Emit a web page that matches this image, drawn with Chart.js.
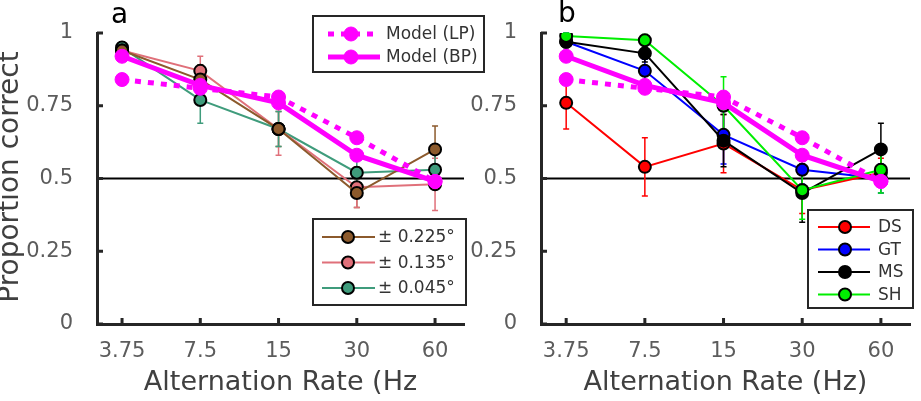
<!DOCTYPE html>
<html>
<head>
<meta charset="utf-8">
<script src="https://cdn.jsdelivr.net/npm/chart.js@4.4.1/dist/chart.umd.min.js"></script>
<style>
html, body { margin: 0; padding: 0; background: #fff; }
#wrap { position: relative; width: 921px; height: 401px; overflow: hidden; }
#chartA { position: absolute; left: 0; top: 0; z-index: 2; }
#chartB { position: absolute; left: 460px; top: 0; z-index: 1; }
</style>
</head>
<body>
<div id="wrap">
  <canvas id="chartA" width="490" height="401"></canvas>
  <canvas id="chartB" width="461" height="401"></canvas>
</div>
<script>
// categories (alternation rate, Hz)
const rates = ['3.75', '7.5', '15', '30', '60'];
const yTicks = [0, 0.25, 0.5, 0.75, 1];

// model curves (same in both panels)
const modelLP = [0.84, 0.81, 0.78, 0.64, 0.49];
const modelBP = [0.92, 0.82, 0.76, 0.58, 0.49];

// panel a: eccentricity conditions (mean, error half-width)
const ecc225 = [0.94, 0.84, 0.67, 0.45, 0.60];
const ecc225Err = [0.02, 0.05, 0.06, 0.05, 0.08];
const ecc135 = [0.94, 0.87, 0.67, 0.47, 0.48];
const ecc135Err = [0.02, 0.05, 0.09, 0.07, 0.09];
const ecc045 = [0.95, 0.77, 0.67, 0.52, 0.53];
const ecc045Err = [0.02, 0.08, 0.06, 0.06, 0.06];

// panel b: subjects
const subjDS = [0.76, 0.54, 0.62, 0.46, 0.52];
const subjDSErr = [0.09, 0.10, 0.10, 0.08, 0.05];
const subjGT = [0.97, 0.87, 0.65, 0.53, 0.50];
const subjGTErr = [0.03, 0.04, 0.10, 0.05, 0.05];
const subjMS = [0.97, 0.93, 0.63, 0.45, 0.60];
const subjMSErr = [0.02, 0.03, 0.09, 0.10, 0.09];
const subjSH = [0.99, 0.975, 0.75, 0.46, 0.53];
const subjSHErr = [0.01, 0.02, 0.10, 0.10, 0.08];

Chart.defaults.font.family = 'DejaVu Sans';

const toPts = arr => arr.map((v, i) => ({ x: i, y: v }));

function subject(label, values, err, color, order) {
  return {
    label: label,
    data: toPts(values),
    err: err,
    borderColor: color,
    backgroundColor: color,
    borderWidth: 2,
    pointRadius: 6,
    pointBackgroundColor: color,
    pointBorderColor: '#000',
    pointBorderWidth: 2,
    order: order
  };
}

function models() {
  return [
    {
      label: 'Model (LP)',
      data: toPts(modelLP),
      borderColor: '#ff00ff',
      backgroundColor: '#ff00ff',
      borderWidth: 5,
      borderDash: [6, 7],
      pointRadius: 7,
      pointBackgroundColor: '#ff00ff',
      pointBorderColor: '#ff00ff',
      pointBorderWidth: 1,
      order: 1
    },
    {
      label: 'Model (BP)',
      data: toPts(modelBP),
      borderColor: '#ff00ff',
      backgroundColor: '#ff00ff',
      borderWidth: 5,
      pointRadius: 7,
      pointBackgroundColor: '#ff00ff',
      pointBorderColor: '#ff00ff',
      pointBorderWidth: 1,
      order: 0
    }
  ];
}

// reference line, error bars, inward ticks, titles and boxed legends
const extras = {
  id: 'extras',
  beforeDatasetsDraw(chart) {
    const { ctx, chartArea: a, scales: { x, y } } = chart;
    ctx.save();
    const y5 = y.getPixelForValue(0.5);
    ctx.strokeStyle = '#000';
    ctx.lineWidth = 2;
    ctx.beginPath();
    ctx.moveTo(a.left, y5);
    ctx.lineTo(a.right, y5);
    ctx.stroke();

    chart.data.datasets.forEach(ds => {
      if (!ds.err) return;
      ctx.strokeStyle = ds.borderColor;
      ctx.lineWidth = 1.5;
      ds.data.forEach(p => {
        const px = x.getPixelForValue(p.x);
        const top = y.getPixelForValue(p.y + ds.err[p.x]);
        const bot = y.getPixelForValue(p.y - ds.err[p.x]);
        ctx.beginPath();
        ctx.moveTo(px, top); ctx.lineTo(px, bot);
        ctx.moveTo(px - 3, top); ctx.lineTo(px + 3, top);
        ctx.moveTo(px - 3, bot); ctx.lineTo(px + 3, bot);
        ctx.stroke();
      });
    });
    ctx.restore();
  },
  afterDraw(chart, args, opts) {
    const { ctx, chartArea: a, scales: { x, y } } = chart;
    ctx.save();
    // inward tick marks
    ctx.strokeStyle = '#262626';
    ctx.lineWidth = 3;
    ctx.beginPath();
    yTicks.forEach(v => {
      const py = y.getPixelForValue(v);
      ctx.moveTo(a.left, py); ctx.lineTo(a.left + 6, py);
    });
    rates.forEach((r, i) => {
      const px = x.getPixelForValue(i);
      ctx.moveTo(px, a.bottom); ctx.lineTo(px, a.bottom - 6);
    });
    ctx.stroke();

    // panel letter
    ctx.fillStyle = '#000';
    ctx.font = '28px "DejaVu Sans"';
    ctx.textAlign = 'left';
    ctx.textBaseline = 'alphabetic';
    ctx.fillText(opts.letter, opts.letterX, opts.letterY);

    // y title (partly off the left edge, as in the figure)
    if (opts.yTitle) {
      ctx.save();
      ctx.translate(18, 177);
      ctx.rotate(-Math.PI / 2);
      ctx.fillStyle = '#404040';
      ctx.font = '28px "DejaVu Sans"';
      ctx.textAlign = 'center';
      ctx.fillText(opts.yTitle, 0, 0);
      ctx.restore();
    }

    // legends
    (opts.legends || []).forEach(L => {
      ctx.fillStyle = '#fff';
      ctx.fillRect(L.x, L.y, L.w, L.h);
      ctx.strokeStyle = '#262626';
      ctx.lineWidth = 2;
      ctx.setLineDash([]);
      ctx.strokeRect(L.x, L.y, L.w, L.h);
      L.items.forEach((di, k) => {
        const ds = chart.data.datasets[di];
        const cy = L.y + L.rowTop + k * L.rowGap;
        ctx.strokeStyle = ds.borderColor;
        ctx.lineWidth = ds.borderWidth;
        ctx.setLineDash(ds.borderDash || []);
        ctx.beginPath();
        ctx.moveTo(L.x + L.line0, cy);
        ctx.lineTo(L.x + L.line1, cy);
        ctx.stroke();
        ctx.setLineDash([]);
        ctx.beginPath();
        ctx.arc(L.x + L.mark, cy, ds.pointRadius, 0, Math.PI * 2);
        ctx.fillStyle = ds.pointBackgroundColor;
        ctx.fill();
        ctx.lineWidth = ds.pointBorderWidth;
        ctx.strokeStyle = ds.pointBorderColor;
        ctx.stroke();
        ctx.fillStyle = '#333';
        ctx.font = '17px "DejaVu Sans"';
        ctx.textAlign = 'left';
        ctx.textBaseline = 'middle';
        ctx.fillText(L.labels ? L.labels[k] : ds.label, L.x + L.text, cy + 1);
      });
    });
    ctx.restore();
  }
};

function makeOptions(yWidth, padRight, xTitle, extraOpts) {
  return {
    responsive: false,
    animation: false,
    layout: { padding: { top: 33, right: padRight, left: 0, bottom: 0 } },
    plugins: {
      legend: { display: false },
      tooltip: { enabled: false },
      extras: extraOpts
    },
    scales: {
      x: {
        type: 'linear',
        min: -0.32,
        max: 4.37,
        afterBuildTicks: s => { s.ticks = rates.map((r, i) => ({ value: i })); },
        afterFit: s => { s.height = 77; },
        grid: { display: false },
        border: { display: true, color: '#262626', width: 3 },
        ticks: {
          color: '#5c5c5c',
          font: { size: 21 },
          padding: 7,
          maxRotation: 0,
          callback: v => rates[v]
        },
        title: {
          display: true,
          text: xTitle,
          color: '#404040',
          font: { size: 27 },
          padding: { top: 0, bottom: 2 }
        }
      },
      y: {
        min: 0,
        max: 1,
        afterBuildTicks: s => { s.ticks = yTicks.map(v => ({ value: v })); },
        afterFit: s => { s.width = yWidth; },
        grid: { display: false },
        border: { display: true, color: '#262626', width: 3 },
        ticks: {
          color: '#5c5c5c',
          font: { size: 21 },
          padding: 16,
          callback: v => String(v)
        }
      }
    }
  };
}

new Chart(document.getElementById('chartA'), {
  type: 'line',
  data: {
    datasets: [
      ...models(),
      subject('± 0.225', ecc225, ecc225Err, '#8c5a2c', 2),
      subject('± 0.135', ecc135, ecc135Err, '#e0707a', 3),
      subject('± 0.045', ecc045, ecc045Err, '#3f9c7c', 4)
    ]
  },
  options: makeOptions(97, 26, 'Alternation Rate (Hz', {
    letter: 'a', letterX: 111, letterY: 23,
    yTitle: 'Proportion correct',
    legends: [
      { x: 313, y: 16, w: 171, h: 56, rowTop: 18, rowGap: 23, line0: 15, line1: 67, mark: 38, text: 73, items: [0, 1] },
      { x: 313, y: 219, w: 153, h: 86, rowTop: 18, rowGap: 25.5, line0: 9, line1: 62, mark: 35, text: 65, items: [2, 3, 4],
        labels: ['± 0.225°', '± 0.135°', '± 0.045°'] }
    ]
  }),
  plugins: [extras]
});

new Chart(document.getElementById('chartB'), {
  type: 'line',
  data: {
    datasets: [
      ...models(),
      subject('DS', subjDS, subjDSErr, '#ff0000', 5),
      subject('GT', subjGT, subjGTErr, '#0000ff', 4),
      subject('MS', subjMS, subjMSErr, '#000000', 3),
      subject('SH', subjSH, subjSHErr, '#00ee00', 2)
    ]
  },
  options: makeOptions(81, 11, 'Alternation Rate (Hz)', {
    letter: 'b', letterX: 98, letterY: 22,
    legends: [
      { x: 348, y: 210, w: 105, h: 98, rowTop: 17, rowGap: 22.5, line0: 10, line1: 62, mark: 37, text: 70, items: [2, 3, 4, 5] }
    ]
  }),
  plugins: [extras]
});
</script>
</body>
</html>
